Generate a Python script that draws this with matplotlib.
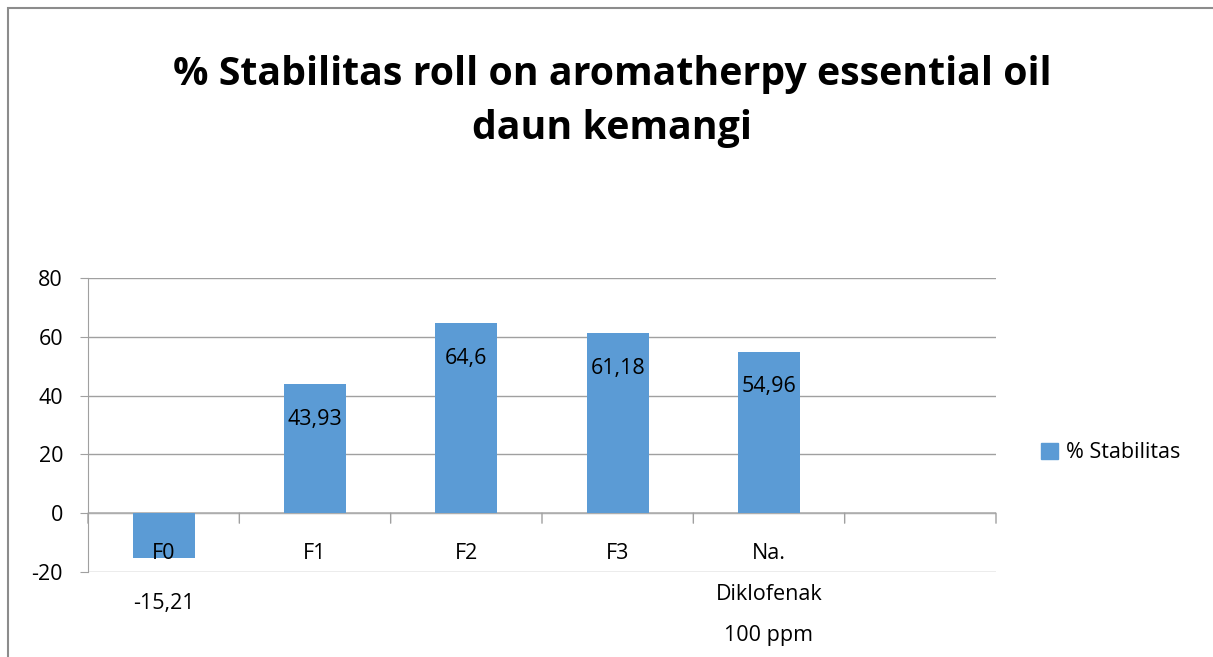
import matplotlib
matplotlib.use("Agg")
import matplotlib.pyplot as plt
from matplotlib.patches import Rectangle, Patch

categories = ["F0", "F1", "F2", "F3", "Na.\nDiklofenak\n100 ppm", ""]
values = [-15.21, 43.93, 64.6, 61.18, 54.96, None]
value_labels = ["-15,21", "43,93", "64,6", "61,18", "54,96", None]
yticks = [-20, 0, 20, 40, 60, 80]
series_name = "% Stabilitas"
title = "% Stabilitas roll on aromatherpy essential oil\ndaun kemangi"

W, H = 1213, 657
plt.rcParams['font.family'] = ['Open Sans', 'DejaVu Sans']
fig = plt.figure(figsize=(W/100, H/100), dpi=100)

# outer frame
fig.patches.append(Rectangle((8/W, -0.01), 1.02, 1 - 8/H + 0.01, transform=fig.transFigure,
                             fill=False, edgecolor='#8c8c8c', linewidth=1.5))

ax = fig.add_axes([88/W, 1 - 572/H, (996 - 88)/W, (572 - 278)/H])
color = '#5B9BD5'
n = len(categories)
xs = list(range(n))
for x, v in zip(xs, values):
    if v is not None:
        ax.bar(x, v, width=0.41, color=color, zorder=3)

fs = 15.5
ax.set_xlim(-0.5, n - 0.5)
ax.set_ylim(-20, 80)
ax.set_yticks(yticks)
ax.set_yticklabels([str(t) for t in yticks], fontsize=fs)
ax.tick_params(axis='y', length=6, color='#a0a0a0', pad=12)
ax.yaxis.grid(True, color='#a0a0a0', linewidth=1, zorder=0)
for s in ['top', 'right', 'bottom']:
    ax.spines[s].set_visible(False)
ax.spines['left'].set_color('#a0a0a0')
ax.set_xticks([])
ax.axhline(0, color='#b0b0b0', linewidth=1.2, zorder=2)

# category ticks at zero line
for b in [i - 0.5 for i in range(n + 1)]:
    ax.annotate('', xy=(b, 0), xytext=(0, -10), textcoords='offset pixels',
                arrowprops=dict(arrowstyle='-', color='#a0a0a0', lw=1, shrinkA=0, shrinkB=0))

# category labels
for x, c in zip(xs, categories):
    if c:
        ax.annotate(c, xy=(x, 0), xytext=(0, -30), textcoords='offset pixels',
                    ha='center', va='top', fontsize=fs, linespacing=2.25, zorder=5)

# data labels
for x, v, lab in zip(xs, values, value_labels):
    if v is None:
        continue
    off = -35 if v > 0 else -46
    ax.annotate(lab, xy=(x, v), xytext=(0, off), textcoords='offset pixels',
                ha='center', va='center', fontsize=fs, zorder=5)

fig.text(612/W, 1 - 102/H, title, ha='center', va='center', fontsize=28.3,
         fontweight='bold', linespacing=1.5)

leg = fig.legend(handles=[Patch(color=color, label=series_name)], loc='center left',
                 bbox_to_anchor=(1022/W, 1 - 453/H), frameon=False, fontsize=fs,
                 handlelength=0.75, handleheight=0.75, handletextpad=0.4)

fig.savefig('out.png', dpi=100)
